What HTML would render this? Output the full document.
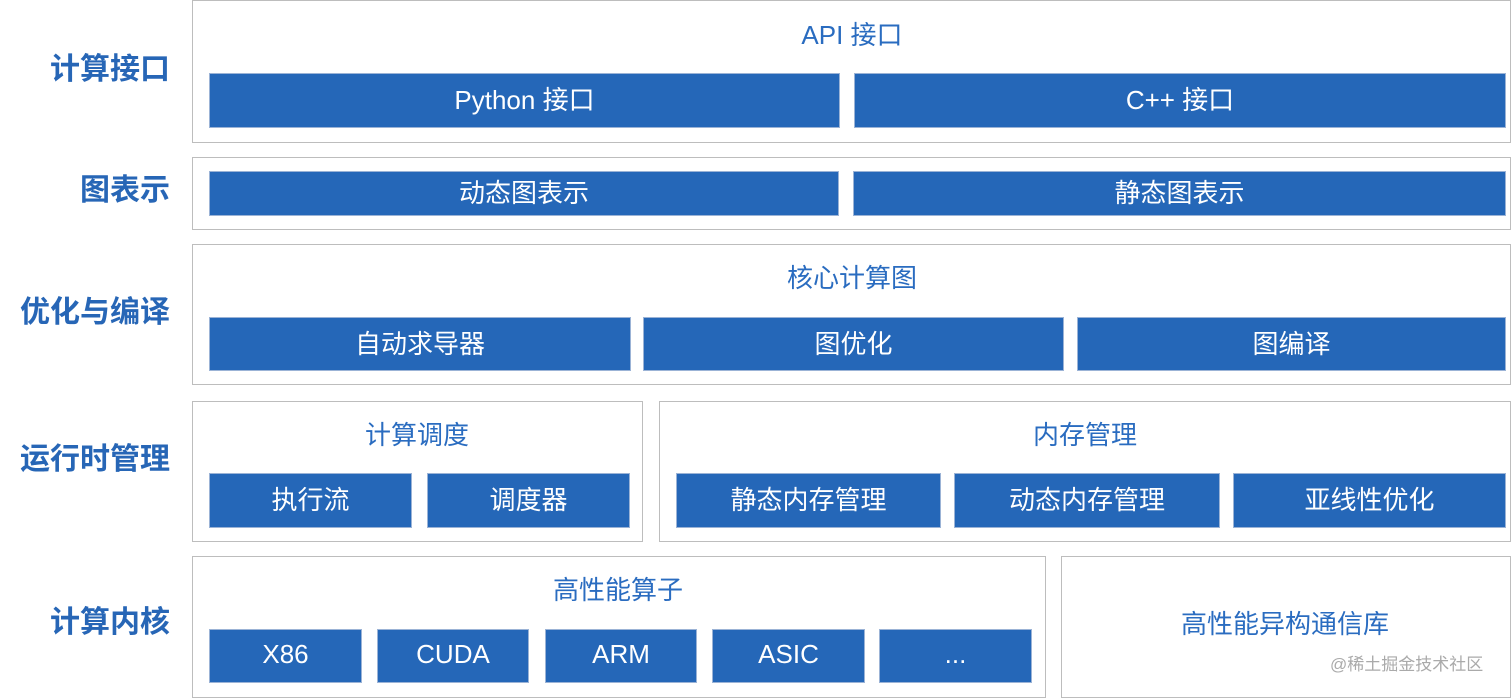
<!DOCTYPE html><html><head><meta charset="utf-8"><style>
body{margin:0;width:1512px;height:698px;background:#fff;position:relative;overflow:hidden;font-family:"Liberation Sans","Noto Sans CJK SC",sans-serif}
.o{position:absolute;border:1.5px solid #bdbdbd;box-sizing:border-box;background:#fff}
.b{position:absolute;background:#2567b8;border:1px solid #9bb3d6;box-sizing:border-box;color:#fff;font-size:26px;display:flex;align-items:center;justify-content:center;padding-bottom:4px}
.t{position:absolute;color:#2a6cc0;font-size:26px;text-align:center;transform:translateX(-50%);white-space:nowrap;line-height:1}
.l{position:absolute;right:1342px;text-align:right;color:#2766b6;font-weight:bold;font-size:30px;line-height:1;white-space:nowrap}
</style></head><body>
<div class="l" style="top:55px">计算接口</div>
<div class="l" style="top:176px">图表示</div>
<div class="l" style="top:298px">优化与编译</div>
<div class="l" style="top:445px">运行时管理</div>
<div class="l" style="top:608px">计算内核</div>

<div class="o" style="left:192px;top:0;width:1319px;height:143px"></div>
<div class="t" style="left:852px;top:22px">API 接口</div>
<div class="b" style="left:209px;top:73px;width:631px;height:55px">Python 接口</div>
<div class="b" style="left:854px;top:73px;width:652px;height:55px">C++ 接口</div>

<div class="o" style="left:192px;top:157px;width:1319px;height:73px"></div>
<div class="b" style="left:209px;top:171px;width:630px;height:45px">动态图表示</div>
<div class="b" style="left:853px;top:171px;width:653px;height:45px">静态图表示</div>

<div class="o" style="left:192px;top:244px;width:1319px;height:141px"></div>
<div class="t" style="left:852px;top:265px">核心计算图</div>
<div class="b" style="left:209px;top:317px;width:422px;height:54px">自动求导器</div>
<div class="b" style="left:643px;top:317px;width:421px;height:54px">图优化</div>
<div class="b" style="left:1077px;top:317px;width:429px;height:54px">图编译</div>

<div class="o" style="left:192px;top:401px;width:451px;height:141px"></div>
<div class="o" style="left:659px;top:401px;width:852px;height:141px"></div>
<div class="t" style="left:417px;top:422px">计算调度</div>
<div class="t" style="left:1085px;top:422px">内存管理</div>
<div class="b" style="left:209px;top:473px;width:203px;height:55px">执行流</div>
<div class="b" style="left:427px;top:473px;width:203px;height:55px">调度器</div>
<div class="b" style="left:676px;top:473px;width:265px;height:55px">静态内存管理</div>
<div class="b" style="left:954px;top:473px;width:266px;height:55px">动态内存管理</div>
<div class="b" style="left:1233px;top:473px;width:273px;height:55px">亚线性优化</div>

<div class="o" style="left:192px;top:556px;width:854px;height:142px"></div>
<div class="o" style="left:1061px;top:556px;width:450px;height:142px"></div>
<div class="t" style="left:618px;top:577px">高性能算子</div>
<div class="t" style="left:1285px;top:611px">高性能异构通信库</div>
<div style="position:absolute;left:1330px;top:656px;color:#aaa;font-size:17px;line-height:1">@稀土掘金技术社区</div>
<div class="b" style="left:209px;top:629px;width:153px;height:54px">X86</div>
<div class="b" style="left:377px;top:629px;width:152px;height:54px">CUDA</div>
<div class="b" style="left:545px;top:629px;width:152px;height:54px">ARM</div>
<div class="b" style="left:712px;top:629px;width:153px;height:54px">ASIC</div>
<div class="b" style="left:879px;top:629px;width:153px;height:54px">...</div>
</body></html>
